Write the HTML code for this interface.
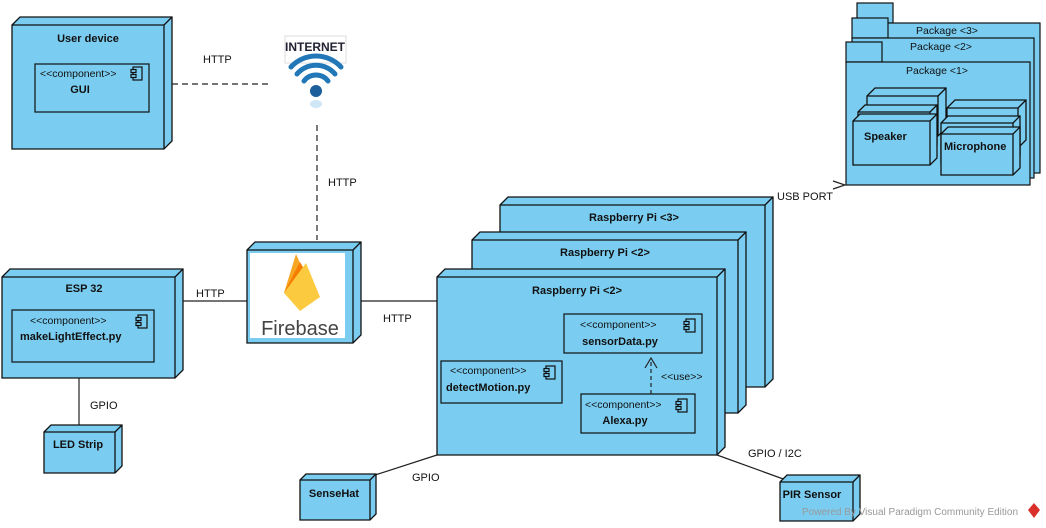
<!DOCTYPE html>
<html><head><meta charset="utf-8"><style>
html,body{margin:0;padding:0;background:#fff;}
svg{display:block;font-family:"Liberation Sans",Arial,sans-serif;}
.n{fill:#7acdf1;stroke:#111;stroke-width:1.3;}
.f{fill:none;stroke:#111;stroke-width:1.3;}
.c{fill:#7acdf1;stroke:#111;stroke-width:1.2;}
.b{font-weight:bold;font-size:11px;fill:#111;}
.t{font-size:10.5px;fill:#111;}
.l{font-size:11px;fill:#111;}
.ln{stroke:#222;stroke-width:1.2;fill:none;}
</style></head><body>
<svg width="1046" height="528" viewBox="0 0 1046 528" xmlns="http://www.w3.org/2000/svg">
<defs>
<g id="ic"><rect x="2" y="0" width="9" height="13" class="c"/><rect x="0" y="2.5" width="5" height="3" class="c"/><rect x="0" y="7.5" width="5" height="3" class="c"/></g>
</defs>

<!-- Packages -->
<rect x="857" y="3" width="36" height="20" class="c"/>
<rect x="857" y="23" width="183" height="150" class="c"/>
<text x="947" y="34" class="t" text-anchor="middle">Package &lt;3&gt;</text>
<rect x="852" y="18" width="36" height="20" class="c"/>
<rect x="852" y="38" width="182" height="140" class="c"/>
<text x="941" y="50" class="t" text-anchor="middle">Package &lt;2&gt;</text>
<rect x="846" y="42" width="36" height="20" class="c"/>
<rect x="846" y="62" width="184" height="123" class="c"/>
<text x="937" y="74" class="t" text-anchor="middle">Package &lt;1&gt;</text>

<polygon class="n" points="867,96 875,88 946,88 946,128 938,136 867,136"/><path class="f" d="M867,96H938V136M938,96L946,88"/>
<polygon class="n" points="858,112 865,105 937,105 937,145 930,152 858,152"/><path class="f" d="M858,112H930V152M930,112L937,105"/>
<polygon class="n" points="853,121 860,114 937,114 937,158 930,165 853,165"/><path class="f" d="M853,121H930V165M930,121L937,114"/>
<text x="864" y="140" class="b">Speaker</text>
<polygon class="n" points="947,108 955,100 1026,100 1026,140 1018,148 947,148"/><path class="f" d="M947,108H1018V148M1018,108L1026,100"/>
<polygon class="n" points="941,123 948,116 1020,116 1020,156 1013,163 941,163"/><path class="f" d="M941,123H1013V163M1013,123L1020,116"/>
<polygon class="n" points="941,134 948,127 1020,127 1020,168 1013,175 941,175"/><path class="f" d="M941,134H1013V175M1013,134L1020,127"/>
<text x="944" y="150" class="b">Microphone</text>

<path class="ln" d="M833,181L845,185L833,189"/>
<text x="777" y="200" class="l">USB PORT</text>

<!-- User device -->
<polygon class="n" points="12,25 20,17 172,17 172,141 164,149 12,149"/><path class="f" d="M12,25H164V149M164,25L172,17"/>
<text x="88" y="42" class="b" text-anchor="middle">User device</text>
<rect x="35" y="64" width="114" height="48" class="c"/>
<text x="40" y="77" class="t">&lt;&lt;component&gt;&gt;</text>
<text x="80" y="93" class="b" text-anchor="middle">GUI</text>
<use href="#ic" x="131" y="67"/>
<path class="ln" d="M172,84H268" stroke-dasharray="6,4"/>
<text x="203" y="63" class="l">HTTP</text>

<!-- Internet -->
<rect x="285" y="36" width="61" height="27" fill="#fff" stroke="#ddd"/>
<text x="315" y="51" font-size="12" font-weight="bold" fill="#223" text-anchor="middle">INTERNET</text>
<g fill="none" stroke="#2277b8" stroke-linecap="round">
<path d="M291,67 A34,34 0 0 1 341,67" stroke-width="5"/>
<path d="M297,74 A25,25 0 0 1 335,74" stroke-width="5"/>
<path d="M304,81 A15,15 0 0 1 328,81" stroke-width="5"/>
</g>
<circle cx="316" cy="91" r="6" fill="#1d5f9a"/>
<ellipse cx="316" cy="104" rx="6" ry="4" fill="#cfe6f7"/>
<path class="ln" d="M317,125V240" stroke-dasharray="6,4"/>
<text x="328" y="186" class="l">HTTP</text>

<!-- ESP 32 -->
<polygon class="n" points="2,277 10,269 183,269 183,370 175,378 2,378"/><path class="f" d="M2,277H175V378M175,277L183,269"/>
<text x="84" y="292" class="b" text-anchor="middle">ESP 32</text>
<rect x="12" y="310" width="142" height="52" class="c"/>
<text x="30" y="324" class="t">&lt;&lt;component&gt;&gt;</text>
<text x="20" y="340" class="b">makeLightEffect.py</text>
<use href="#ic" x="136" y="315"/>
<path class="ln" d="M183,301H247"/>
<text x="196" y="297" class="l">HTTP</text>
<path class="ln" d="M79,378V432"/>
<text x="90" y="409" class="l">GPIO</text>
<polygon class="n" points="44,432 51,425 122,425 122,466 115,473 44,473"/><path class="f" d="M44,432H115V473M115,432L122,425"/>
<text x="78" y="448" class="b" text-anchor="middle">LED Strip</text>

<!-- Firebase -->
<polygon class="n" points="247,250 255,242 361,242 361,335 353,343 247,343"/><path class="f" d="M247,250H353V343M353,250L361,242"/>
<rect x="250" y="253" width="95" height="85" fill="#fff"/>
<polygon points="284,293 296,254 303,270" fill="#f6a623"/>
<polygon points="284,293 300,262 312,283" fill="#f57c00"/>
<polygon points="284,293 306,263 320,297 300,311" fill="#fcca3f"/>
<text x="300" y="335" font-size="20" fill="#444" text-anchor="middle">Firebase</text>
<path class="ln" d="M361,301H437"/>
<text x="383" y="322" class="l">HTTP</text>

<!-- Raspberry Pis -->
<polygon class="n" points="500,205 508,197 773,197 773,379 765,387 500,387"/><path class="f" d="M500,205H765V387M765,205L773,197"/>
<text x="634" y="221" class="b" text-anchor="middle">Raspberry Pi &lt;3&gt;</text>
<polygon class="n" points="472,240 480,232 746,232 746,405 738,413 472,413"/><path class="f" d="M472,240H738V413M738,240L746,232"/>
<text x="605" y="256" class="b" text-anchor="middle">Raspberry Pi &lt;2&gt;</text>
<polygon class="n" points="437,277 445,269 725,269 725,447 717,455 437,455"/><path class="f" d="M437,277H717V455M717,277L725,269"/>
<text x="577" y="294" class="b" text-anchor="middle">Raspberry Pi &lt;2&gt;</text>

<rect x="564" y="314" width="138" height="39" class="c"/>
<text x="580" y="328" class="t">&lt;&lt;component&gt;&gt;</text>
<text x="620" y="345" class="b" text-anchor="middle">sensorData.py</text>
<use href="#ic" x="684" y="319"/>

<rect x="441" y="361" width="121" height="42" class="c"/>
<text x="450" y="374" class="t">&lt;&lt;component&gt;&gt;</text>
<text x="446" y="391" class="b">detectMotion.py</text>
<use href="#ic" x="544" y="366"/>

<rect x="581" y="394" width="114" height="39" class="c"/>
<text x="585" y="408" class="t">&lt;&lt;component&gt;&gt;</text>
<text x="625" y="424" class="b" text-anchor="middle">Alexa.py</text>
<use href="#ic" x="676" y="399"/>

<path class="ln" d="M651,394V359" stroke-dasharray="4,3"/>
<path class="ln" d="M645,368L651,358L657,368"/>
<text x="661" y="380" class="t">&lt;&lt;use&gt;&gt;</text>

<!-- sensors -->
<path class="ln" d="M437,455L372,476"/>
<text x="412" y="481" class="l">GPIO</text>
<polygon class="n" points="300,480 306,474 376,474 376,514 370,520 300,520"/><path class="f" d="M300,480H370V520M370,480L376,474"/>
<text x="334" y="497" class="b" text-anchor="middle">SenseHat</text>

<path class="ln" d="M717,455L786,480"/>
<text x="748" y="457" class="l">GPIO / I2C</text>
<polygon class="n" points="780,482 787,475 860,475 860,514 853,521 780,521"/><path class="f" d="M780,482H853V521M853,482L860,475"/>
<text x="812" y="498" class="b" text-anchor="middle">PIR Sensor</text>

<text x="802" y="515" font-size="10" fill="#999">Powered By Visual Paradigm Community Edition</text>
<polygon points="1034,503 1040,510 1034,518 1028,510" fill="#d9302c"/>
</svg>
</body></html>
